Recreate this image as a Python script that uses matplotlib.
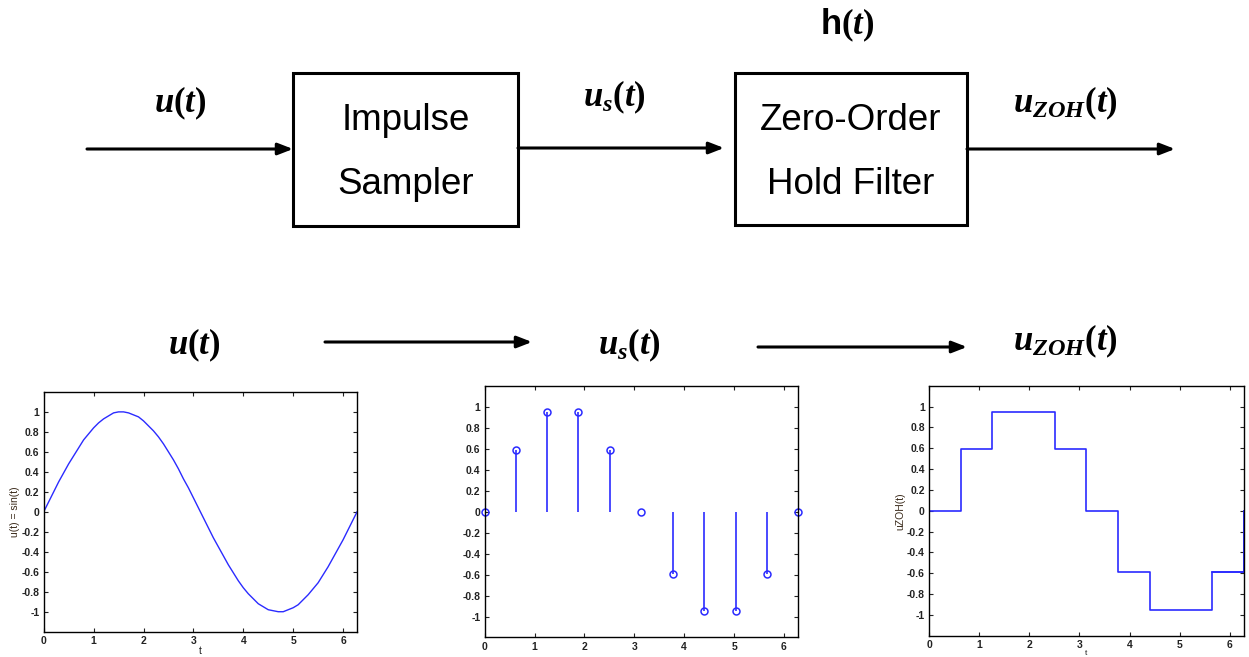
import numpy as np
import matplotlib.pyplot as plt
from matplotlib.patches import Rectangle

plt.rcParams['mathtext.fontset'] = 'custom'
plt.rcParams['mathtext.it'] = 'Liberation Serif:italic:bold'
plt.rcParams['mathtext.rm'] = 'Liberation Serif:bold'
plt.rcParams['mathtext.sf'] = 'Liberation Sans:bold'
plt.rcParams['font.family'] = 'Liberation Sans'

# continuous signal u(t)
t_cont = [0, 0.1, 0.2, 0.3, 0.4, 0.5, 0.6, 0.7, 0.8, 0.9, 1.0, 1.1, 1.2, 1.3,
          1.4, 1.5, 1.6, 1.7, 1.8, 1.9, 2.0, 2.1, 2.2, 2.3, 2.4, 2.5, 2.6, 2.7,
          2.8, 2.9, 3.0, 3.1, 3.2, 3.3, 3.4, 3.5, 3.6, 3.7, 3.8, 3.9, 4.0, 4.1,
          4.2, 4.3, 4.4, 4.5, 4.6, 4.7, 4.8, 4.9, 5.0, 5.1, 5.2, 5.3, 5.4, 5.5,
          5.6, 5.7, 5.8, 5.9, 6.0, 6.1, 6.2, 6.28]
u_cont = [0, 0.10, 0.20, 0.30, 0.39, 0.48, 0.56, 0.64, 0.72, 0.78, 0.84, 0.89,
          0.93, 0.96, 0.99, 1.00, 1.00, 0.99, 0.97, 0.95, 0.91, 0.86, 0.81,
          0.75, 0.68, 0.60, 0.52, 0.43, 0.33, 0.24, 0.14, 0.04, -0.06, -0.16,
          -0.26, -0.35, -0.44, -0.53, -0.61, -0.69, -0.76, -0.82, -0.87, -0.92,
          -0.95, -0.98, -0.99, -1.00, -1.00, -0.98, -0.96, -0.93, -0.88, -0.83,
          -0.77, -0.71, -0.63, -0.55, -0.46, -0.37, -0.28, -0.18, -0.08, 0]

# samples (middle) and zero-order hold (right)
t_samp = [0, 0.63, 1.26, 1.88, 2.51, 3.14, 3.77, 4.40, 5.03, 5.65, 6.28]
u_samp = [0, 0.59, 0.95, 0.95, 0.59, 0, -0.59, -0.95, -0.95, -0.59, 0]

blue = '#2b2bff'
fig = plt.figure(figsize=(12.49, 6.57), dpi=100)

# ---- block diagram on a pixel-space canvas
ax0 = fig.add_axes([0, 0, 1, 1])
ax0.set_xlim(0, 1249)
ax0.set_ylim(657, 0)
ax0.axis('off')

def arrow(x0, x1, y):
    ax0.annotate('', xy=(x1, y), xytext=(x0, y),
                 arrowprops=dict(arrowstyle='-|>,head_length=0.9,head_width=0.35',
                                 color='black', lw=2.2, shrinkA=0, shrinkB=0))

for (x, y, w, h) in [(293, 73, 225, 153), (735, 73, 232, 152)]:
    ax0.add_patch(Rectangle((x, y), w, h, fill=False, lw=2.2, ec='black'))

ax0.text(406, 121, 'Impulse', ha='center', va='center', fontsize=26.5)
ax0.text(406, 184, 'Sampler', ha='center', va='center', fontsize=26.5)
ax0.text(851, 121, 'Zero-Order', ha='center', va='center', fontsize=26.5)
ax0.text(851, 184, 'Hold Filter', ha='center', va='center', fontsize=26.5)

arrow(87, 293, 149)
arrow(518, 724, 148)
arrow(967, 1175, 149)

fs = 25
ax0.text(180, 103, r'$u(t)$', ha='center', va='center', fontsize=fs)
ax0.text(614, 97, r'$u_s(t)$', ha='center', va='center', fontsize=fs)
ax0.text(847, 25, r'$\mathsf{h}(t)$', ha='center', va='center', fontsize=fs)
ax0.text(1065, 103, r'$u_{ZOH}(t)$', ha='center', va='center', fontsize=fs)

ax0.text(194, 345, r'$u(t)$', ha='center', va='center', fontsize=fs)
ax0.text(629, 345, r'$u_s(t)$', ha='center', va='center', fontsize=fs)
ax0.text(1065, 341, r'$u_{ZOH}(t)$', ha='center', va='center', fontsize=fs)
arrow(325, 532, 342)
arrow(758, 967, 347)

# ---- the three MATLAB-style plots
def style(ax):
    ax.set_xlim(0, 2 * np.pi)
    ax.set_ylim(-1.2, 1.2)
    ax.set_xticks(range(7))
    ax.set_yticks([-1, -0.8, -0.6, -0.4, -0.2, 0, 0.2, 0.4, 0.6, 0.8, 1])
    ax.set_yticklabels(['-1', '-0.8', '-0.6', '-0.4', '-0.2', '0', '0.2', '0.4',
                        '0.6', '0.8', '1'])
    ax.tick_params(direction='in', top=True, right=True, labelsize=7.5,
                   length=3, width=0.8, pad=3, colors='#222222')
    for lab in ax.get_xticklabels() + ax.get_yticklabels():
        lab.set_fontweight('bold')
    for s in ax.spines.values():
        s.set_linewidth(1.0)

ax1 = fig.add_axes([0.035, 0.0385, 0.251, 0.365])
ax1.plot(t_cont, u_cont, color=blue, lw=1)
style(ax1)
ax1.set_xlabel('t', fontsize=7.5, labelpad=0, color='#222222')
ax1.set_ylabel('u(t) = sin(t)', fontsize=7.5, labelpad=1, color='#3a2a1a')

ax2 = fig.add_axes([0.388, 0.0297, 0.251, 0.383])
markers, stems, base = ax2.stem(t_samp, u_samp)
plt.setp(markers, marker='o', mfc='none', mec=blue, ms=5, mew=1.1, clip_on=False)
plt.setp(stems, color=blue, lw=1.2)
base.set_visible(False)
style(ax2)

ax3 = fig.add_axes([0.7438, 0.0324, 0.2522, 0.3805])
ax3.step(t_samp, u_samp, where='post', color=blue, lw=1.2)
ax3.plot([t_samp[-2], t_samp[-1], t_samp[-1]], [u_samp[-2], u_samp[-2], u_samp[-1]],
         color=blue, lw=1.2, clip_on=False)
style(ax3)
ax3.set_xlabel('t', fontsize=6, color='#222222')
ax3.xaxis.set_label_coords(0.5, -0.056)
ax3.set_ylabel('uZOH(t)', fontsize=7.5, labelpad=1, color='#3a2a1a')

fig.savefig('out.png', dpi=100)
